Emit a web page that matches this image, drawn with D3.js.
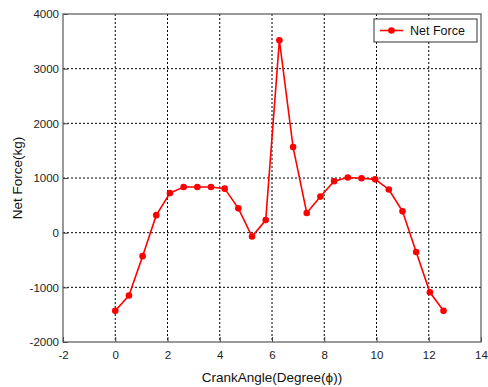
<!DOCTYPE html>
<html>
<head>
<meta charset="utf-8">
<script src="https://cdn.jsdelivr.net/npm/d3@7"></script>
<style>
  body { margin: 0; background: #fff; }
  text { font-family: "Liberation Sans", Arial, sans-serif; }
</style>
</head>
<body>
<div id="chart"></div>
<script>
// data (angle steps of pi/6)
var angles = [0, 0.524, 1.047, 1.571, 2.094, 2.618, 3.142, 3.665, 4.189, 4.712, 5.236, 5.760,
  6.283, 6.807, 7.330, 7.854, 8.378, 8.901, 9.425, 9.948, 10.472, 10.996, 11.519, 12.043, 12.566];
var netForce = [-1430, -1150, -430, 320, 725, 835, 835, 835, 805, 445, -70, 230,
  3520, 1565, 360, 660, 940, 1010, 995, 975, 790, 390, -355, -1090, -1430];
var xTicks = [-2, 0, 2, 4, 6, 8, 10, 12, 14];
var yTicks = [-2000, -1000, 0, 1000, 2000, 3000, 4000];

// set the dimensions and margins of the graph
var margin = { top: 14, right: 7, bottom: 45, left: 63 },
    width = 488 - margin.left - margin.right,
    height = 387 - margin.top - margin.bottom;

var svg = d3.select("#chart")
    .append("svg")
    .attr("width", 488)
    .attr("height", 387)
    .append("g")
    .attr("transform", "translate(" + margin.left + "," + margin.top + ")");

var x = d3.scaleLinear().domain([-2, 14]).range([0, width]);
var y = d3.scaleLinear().domain([-2000, 4000]).range([height, 0]);

// grid
svg.append("g")
    .selectAll("line.gx")
    .data(xTicks.slice(1, -1))
    .enter().append("line")
    .attr("x1", d => x(d)).attr("x2", d => x(d))
    .attr("y1", 0).attr("y2", height)
    .attr("stroke", "#000").attr("stroke-width", 1)
    .attr("stroke-dasharray", "2,2");
svg.append("g")
    .selectAll("line.gy")
    .data(yTicks.slice(1, -1))
    .enter().append("line")
    .attr("x1", 0).attr("x2", width)
    .attr("y1", d => y(d)).attr("y2", d => y(d))
    .attr("stroke", "#000").attr("stroke-width", 1)
    .attr("stroke-dasharray", "2,2");

// axes
var fmt = d => String(d);
var xAxis = svg.append("g")
    .attr("transform", "translate(0," + height + ")")
    .call(d3.axisBottom(x).tickValues(xTicks).tickFormat(fmt).tickSizeInner(-5).tickSizeOuter(0).tickPadding(9));
var yAxis = svg.append("g")
    .call(d3.axisLeft(y).tickValues(yTicks).tickFormat(fmt).tickSizeInner(-5).tickSizeOuter(0).tickPadding(4));
[xAxis, yAxis].forEach(function (a) {
    a.selectAll("path").remove();
    a.selectAll("line").attr("stroke", "#444");
    a.selectAll("text").attr("font-size", 11.5).attr("fill", "#222")
        .style("font-family", "Liberation Sans, Arial, sans-serif");
});

// frame
svg.append("rect")
    .attr("width", width).attr("height", height)
    .attr("fill", "none").attr("stroke", "#555").attr("stroke-width", 1.2);

// line + markers
var pts = angles.map((a, i) => ({ a: a, f: netForce[i] }));
svg.append("path")
    .datum(pts)
    .attr("fill", "none")
    .attr("stroke", "#f00")
    .attr("stroke-width", 1.6)
    .attr("d", d3.line().x(d => x(d.a)).y(d => y(d.f)));
svg.selectAll("circle.pt")
    .data(pts)
    .enter().append("circle")
    .attr("cx", d => x(d.a)).attr("cy", d => y(d.f))
    .attr("r", 3.3).attr("fill", "#f00");

// axis labels
svg.append("text")
    .attr("x", width / 2).attr("y", height + 40)
    .attr("text-anchor", "middle").attr("font-size", 13.5).attr("fill", "#111")
    .text("CrankAngle(Degree(\u03d5))");
svg.append("text")
    .attr("transform", "translate(" + (-41) + "," + (height / 2) + ")rotate(-90)")
    .attr("text-anchor", "middle").attr("font-size", 13.5).attr("fill", "#111")
    .text("Net Force(kg)");

// legend
var lg = svg.append("g").attr("transform", "translate(" + (374 - margin.left) + "," + (19 - margin.top) + ")");
lg.append("rect").attr("width", 103).attr("height", 23)
    .attr("fill", "#fff").attr("stroke", "#333").attr("stroke-width", 1);
lg.append("line").attr("x1", 6).attr("x2", 29).attr("y1", 11.5).attr("y2", 11.5)
    .attr("stroke", "#f00").attr("stroke-width", 1.6);
lg.append("circle").attr("cx", 17.5).attr("cy", 11.5).attr("r", 3.3).attr("fill", "#f00");
lg.append("text").attr("x", 36).attr("y", 16).attr("font-size", 12.5).attr("fill", "#111").text("Net Force");
</script>
</body>
</html>
